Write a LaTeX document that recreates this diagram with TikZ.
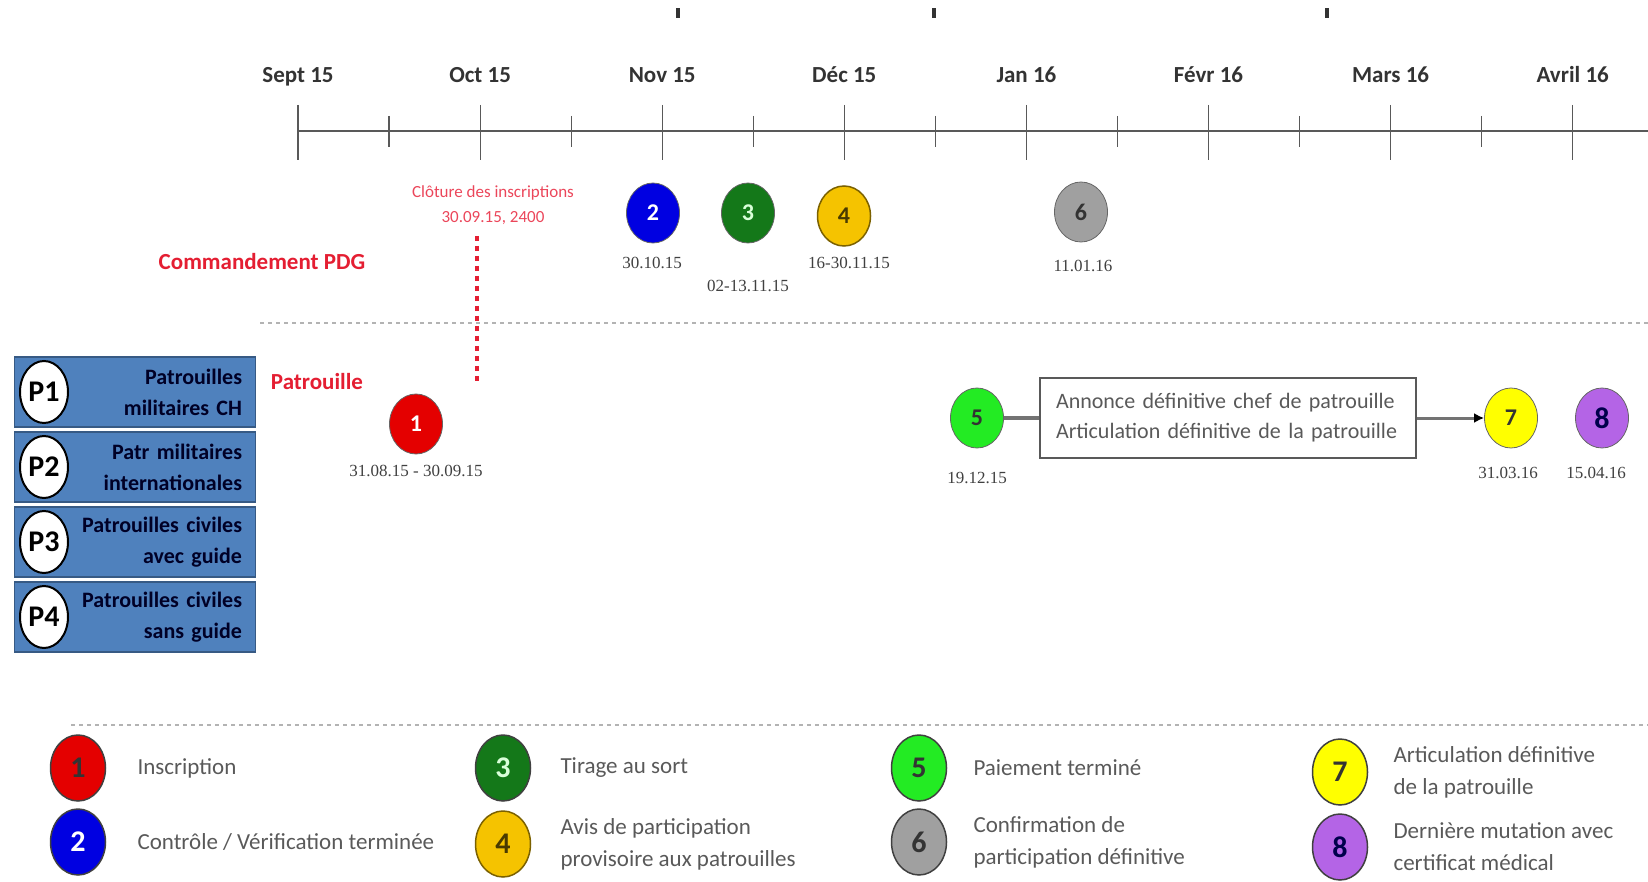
\documentclass[tikz,border=0pt]{standalone}
\usepackage{fontspec}
\setmainfont{Carlito}
\newfontfamily\datefont{Liberation Serif}
\usetikzlibrary{shapes.geometric,arrows.meta,positioning}
\definecolor{rouge}{RGB}{228,0,0}
\definecolor{bleu}{RGB}{0,0,225}
\definecolor{vertf}{RGB}{20,120,25}
\definecolor{ocre}{RGB}{245,195,0}
\definecolor{vertc}{RGB}{35,235,35}
\definecolor{gris}{RGB}{160,160,160}
\definecolor{jaune}{RGB}{255,255,0}
\definecolor{violet}{RGB}{180,100,230}
\definecolor{acier}{RGB}{79,129,189}
\definecolor{rosered}{RGB}{235,70,90}
\definecolor{titre}{RGB}{228,30,50}
\tikzset{
  etape/.style={ellipse,draw=black!60,line width=0.8pt,minimum width=53pt,minimum height=60pt,inner sep=0pt,text=black!80,font=\fontsize{24}{24}\selectfont\bfseries},
  grande/.style={etape,draw=black!75,line width=1.5pt,minimum width=55pt,minimum height=66pt,font=\fontsize{30}{30}\selectfont\bfseries},
  mois/.style={text=black!80,text height=16pt,text depth=5pt,font=\fontsize{23}{26}\selectfont\bfseries},
  date/.style={text=black!75,font=\datefont\fontsize{17}{20}\selectfont},
  legende/.style={anchor=west,align=left,text=black!65,font=\fontsize{23}{32}\selectfont},
  pbox/.style={draw=acier!70!black,line width=1.5pt,fill=acier,minimum width=241pt,minimum height=70pt,text width=214pt,align=right,inner xsep=13pt,text=black!85!blue,font=\fontsize{22}{31}\selectfont\bfseries},
  pcercle/.style={ellipse,draw=black,line width=2pt,fill=white,minimum width=48pt,minimum height=62pt,inner sep=0pt,font=\fontsize{30}{30}\selectfont\bfseries}
}
\begin{document}
\begin{tikzpicture}[x=1pt,y=-1pt]
\useasboundingbox (0,0) rectangle (1648,882);
\foreach \x in {678,934,1327} \fill[black!80] (\x-2,8) rectangle (\x+2,18);
\draw[black!65,line width=1.5pt] (298,131) -- (1648,131);
\foreach \m [count=\i from 0] in {Sept 15,Oct 15,Nov 15,Déc 15,Jan 16,Févr 16,Mars 16,Avril 16} {
  \node[mois] (mois\i) at ({298+182.1*\i},77) {\m};
  \draw[black!65,line width=1.2pt] ({298+182.1*\i},105) -- ({298+182.1*\i},160);
}
\foreach \i in {0,...,6} \draw[black!65,line width=1.2pt] ({389+182.1*\i},116) -- ({389+182.1*\i},147);
\draw[gris!80,line width=2pt,dash pattern=on 4pt off 4pt] (260,323) -- (1648,323);
\draw[gris!80,line width=2pt,dash pattern=on 4pt off 4pt] (71,725) -- (1648,725);

\node[text=rosered,align=center,font=\fontsize{17}{25}\selectfont] (cloture) at (493,205) {Clôture des inscriptions\\30.09.15, 2400};
\coordinate (clotA) at (477,236);
\coordinate (clotB) at (477,384);
\draw[titre,line width=4pt,dash pattern=on 5pt off 5pt] (clotA) -- (clotB);
\node[text=titre,font=\fontsize{23}{26}\selectfont\bfseries] (cmd) at (262,262) {Commandement PDG};
\node[text=titre,font=\fontsize{23}{26}\selectfont\bfseries] (patr) at (317,382) {Patrouille};

\node[etape,fill=bleu,text=white] (e2) at (653,213) {2};
\node[date] (d2) at (652,263) {30.10.15};
\node[etape,fill=vertf,text=green!15] (e3) at (748,213) {3};
\node[date] (d3) at (748,286) {02-13.11.15};
\node[etape,fill=ocre,draw=ocre!50!black,line width=1.5pt,text=ocre!30!black] (e4) at (844,216) {4};
\node[date] (d4) at (849,263) {16-30.11.15};
\node[etape,fill=gris] (e6) at (1081,212) {6};
\node[date] (d6) at (1083,266) {11.01.16};
\node[etape,fill=rouge,text=white] (e1) at (416,424) {1};
\node[date] (d1) at (416,471) {31.08.15 - 30.09.15};
\node[etape,fill=vertc] (e5) at (977,418) {5};
\node[date] (d5) at (977,478) {19.12.15};
\node[draw=black!65,line width=1.5pt,minimum width=376pt,minimum height=80pt,text width=344pt,inner xsep=16pt,align=left,text=black!65,font=\fontsize{22}{30}\selectfont] (annonce) at (1228,418) {Annonce définitive chef de patrouille\\Articulation définitive de la patrouille};
\node[etape,fill=jaune] (e7) at (1511,418) {7};
\node[date] (d7) at (1508,473) {31.03.16};
\node[etape,fill=violet,text=blue!30!black,font=\fontsize{30}{30}\selectfont\bfseries] (e8) at (1602,418) {8};
\node[date] (d8) at (1596,473) {15.04.16};
\draw[black!55,line width=4pt] (e5) -- (annonce);
\draw[black!55,line width=3pt,-{Latex[color=black,length=10pt,width=10pt]}] (annonce) -- (e7);

\node[pbox] (p1) at (135,392) {Patrouilles\\militaires CH};
\node[pbox] (p2) at (135,467) {Patr militaires\\internationales};
\node[pbox] (p3) at (135,542) {Patrouilles civiles\\avec guide};
\node[pbox] (p4) at (135,617) {Patrouilles civiles\\sans guide};
\node[pcercle] (c1) at (44,392) {P1};
\node[pcercle] (c2) at (44,467) {P2};
\node[pcercle] (c3) at (44,542) {P3};
\node[pcercle] (c4) at (44,617) {P4};

\node[grande,fill=rouge] (l1) at (78,768) {1};
\node[legende] (t1) at (134,768) {Inscription};
\node[grande,fill=bleu,text=white] (l2) at (78,842) {2};
\node[legende] (t2) at (134,842) {Contrôle / Vérification terminée};
\node[grande,fill=vertf,text=green!15] (l3) at (503,768) {3};
\node[legende] (t3) at (557,768) {Tirage au sort};
\node[grande,fill=ocre,draw=ocre!50!black,text=ocre!30!black] (l4) at (503,844) {4};
\node[legende] (t4) at (557,844) {Avis de participation\\provisoire aux patrouilles};
\node[grande,fill=vertc] (l5) at (919,768) {5};
\node[legende] (t5) at (970,768) {Paiement terminé};
\node[grande,fill=gris] (l6) at (919,842) {6};
\node[legende] (t6) at (970,842) {Confirmation de\\participation définitive};
\node[grande,fill=jaune] (l7) at (1340,772) {7};
\node[legende] (t7) at (1390,772) {Articulation définitive\\de la patrouille};
\node[grande,fill=violet,text=blue!30!black] (l8) at (1340,847) {8};
\node[legende] (t8) at (1390,847) {Dernière mutation avec\\certificat médical};
\end{tikzpicture}
\end{document}
